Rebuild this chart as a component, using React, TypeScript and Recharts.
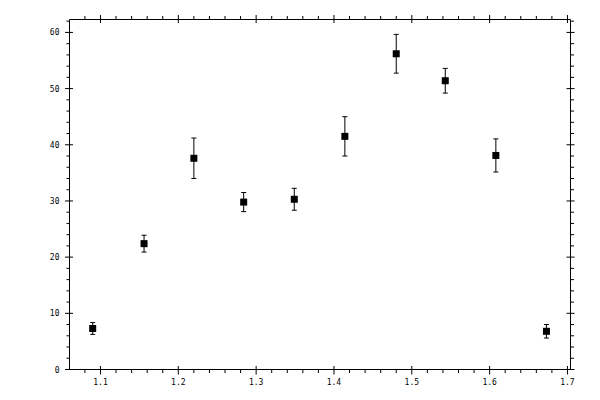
import { ScatterChart, Scatter, XAxis, YAxis, ErrorBar } from "recharts";

const xValues = [1.09, 1.156, 1.22, 1.284, 1.349, 1.414, 1.48, 1.543, 1.608, 1.673];
const yValues = [7.3, 22.4, 37.6, 29.8, 30.3, 41.5, 56.2, 51.4, 38.1, 6.8];
const yErrors = [1.05, 1.5, 3.6, 1.7, 1.95, 3.5, 3.45, 2.2, 2.95, 1.2];

const xMajorTicks = [1.1, 1.2, 1.3, 1.4, 1.5, 1.6, 1.7];
const xMinorTicks = [
  1.08, 1.12, 1.14, 1.16, 1.18, 1.22, 1.24, 1.26, 1.28, 1.32, 1.34, 1.36, 1.38,
  1.42, 1.44, 1.46, 1.48, 1.52, 1.54, 1.56, 1.58, 1.62, 1.64, 1.66, 1.68,
];
const yMajorTicks = [0, 10, 20, 30, 40, 50, 60];
const yMinorTicks = [
  2, 4, 6, 8, 12, 14, 16, 18, 22, 24, 26, 28, 32, 34, 36, 38, 42, 44, 46, 48,
  52, 54, 56, 58, 62,
];

const xDomain = [1.0602, 1.7039];
const yDomain = [0, 62.3];

const data = xValues.map((x, i) => ({ x, y: yValues[i], err: yErrors[i] }));
const xTicks = [...xMajorTicks, ...xMinorTicks].sort((a, b) => a - b);
const yTicks = [...yMajorTicks, ...yMinorTicks].sort((a, b) => a - b);

const isMajor = (list: number[], v: number) =>
  list.some((m) => Math.abs(m - v) < 1e-6);

const font = { fontFamily: "DejaVu Sans Mono", fontSize: 8, fill: "#000" };

const BottomTick = ({ x, y, payload }: any) => {
  const major = isMajor(xMajorTicks, payload.value);
  return (
    <g>
      <line x1={x} x2={x} y1={major ? y - 3.5 : y} y2={major ? y + 5 : y + 3.5} stroke="#000" />
      {major && (
        <text x={x} y={y + 15} textAnchor="middle" {...font}>
          {String(payload.value)}
        </text>
      )}
    </g>
  );
};

const TopTick = ({ x, y, payload }: any) => {
  const major = isMajor(xMajorTicks, payload.value);
  return <line x1={x} x2={x} y1={major ? y - 4.5 : y - 3.5} y2={major ? y + 3.5 : y} stroke="#000" />;
};

const LeftTick = ({ x, y, payload }: any) => {
  const major = isMajor(yMajorTicks, payload.value);
  return (
    <g>
      <line x1={major ? x - 4.5 : x - 3} x2={major ? x + 3.5 : x} y1={y} y2={y} stroke="#000" />
      {major && (
        <text x={x - 10} y={y + 3} textAnchor="end" {...font}>
          {String(payload.value)}
        </text>
      )}
    </g>
  );
};

const RightTick = ({ x, y, payload }: any) => {
  const major = isMajor(yMajorTicks, payload.value);
  return <line x1={major ? x - 4 : x} x2={major ? x + 4 : x + 3.5} y1={y} y2={y} stroke="#000" />;
};

const SquareMarker = (props: any) => (
  <rect x={props.cx - 3.5} y={props.cy - 3.5} width={7} height={7} fill="#000" />
);

const App = () => (
  <div style={{ position: "absolute", left: 0, top: 0, width: 600, height: 400, background: "#fff" }}>
    <ScatterChart width={600} height={400} margin={{ top: 0.5, right: 0.5, bottom: 0.5, left: 0.5 }}>
      <XAxis
        xAxisId="bottom"
        dataKey="x"
        type="number"
        domain={xDomain}
        allowDataOverflow
        ticks={xTicks}
        interval={0}
        height={30}
        tickSize={0}
        tickMargin={0}
        tickLine={false}
        tick={<BottomTick />}
        axisLine={{ stroke: "#000" }}
      />
      <XAxis
        xAxisId="top"
        orientation="top"
        dataKey="x"
        type="number"
        domain={xDomain}
        allowDataOverflow
        ticks={xTicks}
        interval={0}
        height={19}
        tickSize={0}
        tickMargin={0}
        tickLine={false}
        tick={<TopTick />}
        axisLine={{ stroke: "#000" }}
      />
      <YAxis
        yAxisId="left"
        dataKey="y"
        type="number"
        domain={yDomain}
        allowDataOverflow
        ticks={yTicks}
        interval={0}
        width={69}
        tickSize={0}
        tickMargin={0}
        tickLine={false}
        tick={<LeftTick />}
        axisLine={{ stroke: "#000" }}
      />
      <YAxis
        yAxisId="right"
        orientation="right"
        dataKey="y"
        type="number"
        domain={yDomain}
        allowDataOverflow
        ticks={yTicks}
        interval={0}
        width={29}
        tickSize={0}
        tickMargin={0}
        tickLine={false}
        tick={<RightTick />}
        axisLine={{ stroke: "#000" }}
      />
      <Scatter
        data={data}
        xAxisId="bottom"
        yAxisId="left"
        shape={<SquareMarker />}
        isAnimationActive={false}
      >
        <ErrorBar
          dataKey="err"
          direction="y"
          width={2.5}
          stroke="#000"
          strokeWidth={1}
          isAnimationActive={false}
        />
      </Scatter>
    </ScatterChart>
  </div>
);

export default App;
